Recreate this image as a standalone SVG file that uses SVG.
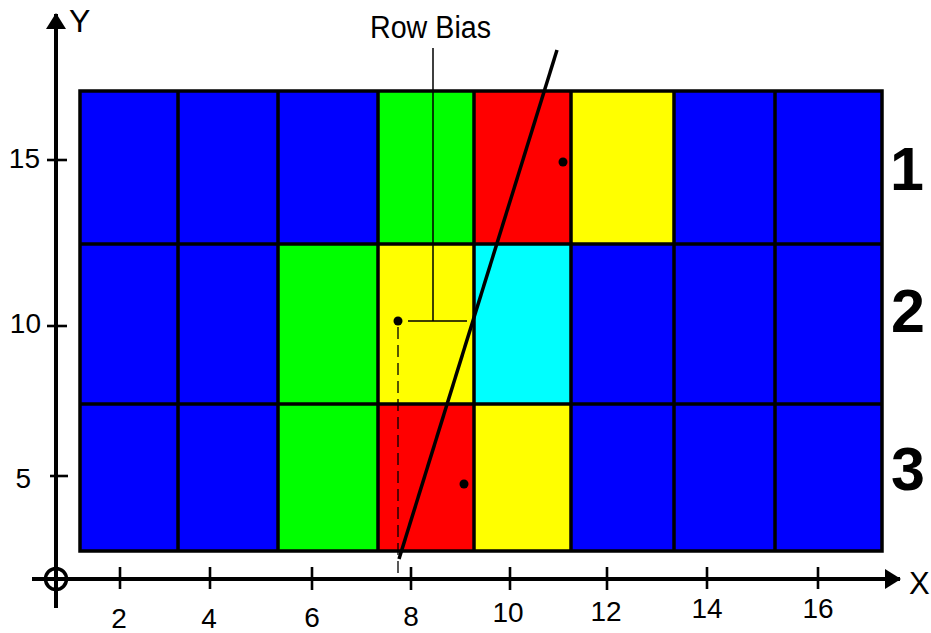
<svg xmlns="http://www.w3.org/2000/svg" width="931" height="633" viewBox="0 0 931 633">
<style>
.b{fill:#0000FF}.g{fill:#00FF00}.r{fill:#FF0000}.y{fill:#FFFF00}.c{fill:#00FFFF}
.grid{stroke:#000;stroke-width:3.5;fill:none}
.ax{stroke:#000;stroke-width:4;fill:none}
.tk{stroke:#000;stroke-width:2.6}
.t{font-family:"Liberation Sans",Arial,sans-serif;fill:#000}
.num{font-size:28px}
.big{font-size:61px;font-weight:bold;text-anchor:middle}
</style>
<defs>
<marker id="ah" viewBox="0 0 16 20" refX="15" refY="10" markerWidth="16" markerHeight="20" markerUnits="userSpaceOnUse" orient="auto">
<path d="M0,0 L16,10 L0,20 Z" fill="#000"/>
</marker>
</defs>
<g id="cells">
<rect class="b" x="80" y="91" width="98" height="153"/>
<rect class="b" x="178" y="91" width="100" height="153"/>
<rect class="b" x="278" y="91" width="100" height="153"/>
<rect class="g" x="378" y="91" width="96" height="153"/>
<rect class="r" x="474" y="91" width="97" height="153"/>
<rect class="y" x="571" y="91" width="103" height="153"/>
<rect class="b" x="674" y="91" width="101" height="153"/>
<rect class="b" x="775" y="91" width="107" height="153"/>
<rect class="b" x="80" y="244" width="98" height="160"/>
<rect class="b" x="178" y="244" width="100" height="160"/>
<rect class="g" x="278" y="244" width="100" height="160"/>
<rect class="y" x="378" y="244" width="96" height="160"/>
<rect class="c" x="474" y="244" width="97" height="160"/>
<rect class="b" x="571" y="244" width="103" height="160"/>
<rect class="b" x="674" y="244" width="101" height="160"/>
<rect class="b" x="775" y="244" width="107" height="160"/>
<rect class="b" x="80" y="404" width="98" height="147"/>
<rect class="b" x="178" y="404" width="100" height="147"/>
<rect class="g" x="278" y="404" width="100" height="147"/>
<rect class="r" x="378" y="404" width="96" height="147"/>
<rect class="y" x="474" y="404" width="97" height="147"/>
<rect class="b" x="571" y="404" width="103" height="147"/>
<rect class="b" x="674" y="404" width="101" height="147"/>
<rect class="b" x="775" y="404" width="107" height="147"/>
</g>
<g id="gridlines" class="grid">
<rect x="80" y="91" width="802" height="460"/>
<path d="M80,244 H882 M80,404 H882 M178,91 V551 M278,91 V551 M378,91 V551 M474,91 V551 M571,91 V551 M674,91 V551 M775,91 V551"/>
</g>
<g id="axes">
<line class="ax" x1="56" y1="608" x2="56" y2="14" marker-end="url(#ah)"/>
<line class="ax" x1="32" y1="579" x2="900" y2="579" marker-end="url(#ah)"/>
<circle cx="56" cy="579" r="10.5" fill="none" stroke="#000" stroke-width="3.5"/>
<g class="tk">
<line x1="120" y1="567" x2="120" y2="589"/>
<line x1="210" y1="567" x2="210" y2="589"/>
<line x1="312" y1="567" x2="312" y2="590"/>
<line x1="411" y1="567" x2="411" y2="590"/>
<line x1="510" y1="567" x2="510" y2="590"/>
<line x1="607" y1="567" x2="607" y2="590"/>
<line x1="707" y1="567" x2="707" y2="589"/>
<line x1="818" y1="567" x2="818" y2="589"/>
<line x1="47" y1="160" x2="67" y2="160"/>
<line x1="47" y1="326" x2="67" y2="326"/>
<line x1="50" y1="476" x2="68" y2="476"/>
</g>
<g class="t num" text-anchor="middle">
<text x="119" y="628">2</text>
<text x="209" y="628">4</text>
<text x="312" y="627">6</text>
<text x="411" y="626">8</text>
<text x="508" y="622">10</text>
<text x="606" y="621">12</text>
<text x="707" y="618">14</text>
<text x="818" y="618">16</text>
</g>
<g class="t num" text-anchor="end">
<text x="40" y="168">15</text>
<text x="41" y="333">10</text>
<text x="31" y="488">5</text>
</g>
<text class="t" x="69" y="32" font-size="32">Y</text>
<text class="t" x="909" y="594" font-size="31">X</text>
</g>
<g id="row-labels" class="t big">
<text x="907" y="190">1</text>
<text x="908" y="332">2</text>
<text x="908" y="490">3</text>
</g>
<g id="connectors">
<line x1="557" y1="50" x2="399" y2="559" stroke="#000" stroke-width="3.5"/>
<path d="M433,48 V321 M408,321 H467" stroke="#000" stroke-width="1.5" fill="none"/>
<line x1="398" y1="327" x2="398" y2="574" stroke="#000" stroke-width="1.3" stroke-dasharray="12 6"/>
</g>
<g id="points">
<circle cx="563" cy="162" r="4.5"/>
<circle cx="398" cy="321" r="4.5"/>
<circle cx="464" cy="484" r="4.5"/>
</g>
<g id="row-bias-label">
<text class="t" x="370" y="38" font-size="31" textLength="121" lengthAdjust="spacingAndGlyphs">Row Bias</text>
</g>
</svg>
